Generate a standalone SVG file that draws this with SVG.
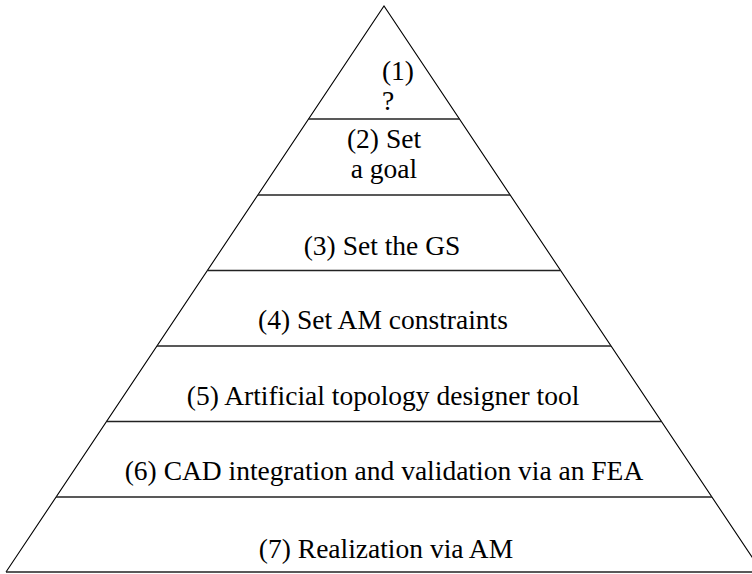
<svg xmlns="http://www.w3.org/2000/svg" width="752" height="574" viewBox="0 0 752 574">
  <style>
    .edge { fill: none; stroke: #000; stroke-width: 1.1; }
    .tier { fill: none; stroke: #222; stroke-width: 1.5; }
    .lbl { font-family: "Liberation Serif", "Times New Roman", serif; font-size: 27.5px; fill: #000; text-anchor: middle; }
  </style>
  <rect width="752" height="574" fill="#fff"/>
  <!-- pyramid outline and tier dividers -->
  <g id="connectors">
    <polyline class="edge" points="6,572 384,6 762,572"/>
    <line class="tier" x1="308.5" y1="119" x2="459.5" y2="119"/>
    <line class="tier" x1="258" y1="195" x2="510" y2="195"/>
    <line class="tier" x1="207.5" y1="270.5" x2="560.5" y2="270.5"/>
    <line class="tier" x1="157" y1="346" x2="611" y2="346"/>
    <line class="tier" x1="106.5" y1="421.5" x2="661.5" y2="421.5"/>
    <line class="tier" x1="56" y1="497" x2="712" y2="497"/>
    <line class="tier" x1="6" y1="572" x2="752" y2="572"/>
  </g>
  <g id="tier1">
    <text class="lbl" x="398" y="80">(1)</text>
    <text class="lbl" x="388" y="110">?</text>
  </g>
  <g id="tier2">
    <text class="lbl" x="384" y="148">(2) Set</text>
    <text class="lbl" x="384" y="178">a goal</text>
  </g>
  <g id="tier3">
    <text class="lbl" x="382" y="255">(3) Set the GS</text>
  </g>
  <g id="tier4">
    <text class="lbl" x="383" y="329">(4) Set AM constraints</text>
  </g>
  <g id="tier5">
    <text class="lbl" x="383" y="405">(5) Artificial topology designer tool</text>
  </g>
  <g id="tier6">
    <text class="lbl" x="384" y="480">(6) CAD integration and validation via an FEA</text>
  </g>
  <g id="tier7">
    <text class="lbl" x="386" y="558">(7) Realization via AM</text>
  </g>
</svg>
